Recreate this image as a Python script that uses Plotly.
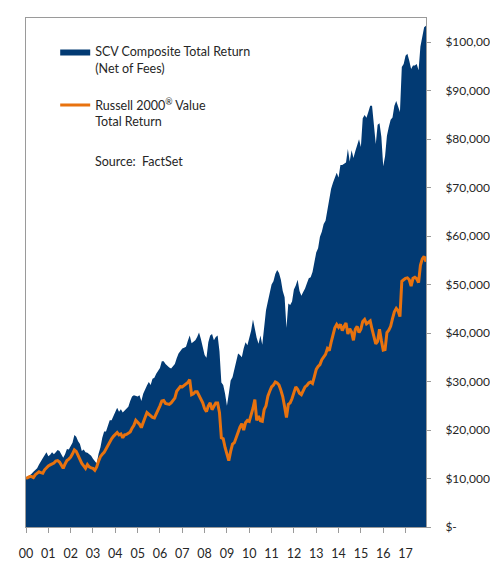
import plotly.graph_objects as go

# ---- data (values in $ thousands, month-end, Jan 2000 .. Dec 2017) ----
years = list(range(2000, 2018))
months = [f"{y}-{m:02d}" for y in years for m in range(1, 13)]
year_labels = ["00", "01", "02", "03", "04", "05", "06", "07", "08", "09",
               "10", "11", "12", "13", "14", "15", "16", "17"]

scv_k = [
    10.0, 10.3, 10.6, 11.0, 11.4, 11.7, 12.1, 12.9, 13.7, 14.2, 14.8, 15.4,
    14.6, 14.9, 15.4, 15.0, 15.4, 15.9, 15.7, 15.0, 14.3, 15.0, 16.1, 16.0,
    16.7, 17.4, 19.0, 18.6, 17.7, 17.1, 15.7, 16.0, 15.4, 15.3, 15.0, 14.7,
    14.1, 13.7, 13.1, 15.1, 16.4, 18.4, 19.7, 19.7, 21.0, 22.0, 22.0, 22.8,
    23.6, 24.6, 23.8, 24.3, 23.6, 24.0, 24.6, 24.8, 26.0, 26.9, 27.2, 27.0,
    26.9, 27.2, 26.0, 27.5, 28.5, 29.2, 29.9, 29.3, 30.6, 30.8, 31.6, 32.2,
    32.8, 34.2, 34.2, 33.6, 33.2, 32.9, 32.7, 33.2, 33.6, 34.8, 35.8, 36.3,
    36.8, 37.0, 37.2, 38.4, 39.5, 37.9, 38.2, 38.5, 39.2, 40.1, 38.8, 37.0,
    35.5, 34.9, 38.1, 39.5, 39.8, 38.5, 39.2, 39.5, 36.2, 29.8, 29.3, 27.5,
    25.0, 27.5, 30.2, 30.9, 32.5, 34.2, 35.8, 35.5, 35.0, 36.8, 38.1, 37.5,
    38.8, 40.5, 42.8, 40.8, 39.0, 37.8, 39.5, 37.6, 42.0, 44.7, 46.5, 48.0,
    50.0, 50.7, 52.2, 53.0, 52.4, 51.0, 48.7, 47.4, 41.1, 46.1, 45.8, 46.5,
    49.0, 49.8, 51.0, 48.7, 47.7, 48.5, 49.2, 50.3, 51.3, 51.5, 52.6, 54.6,
    56.6, 57.5, 59.9, 60.9, 62.5, 63.2, 65.5, 67.8, 69.8, 71.0, 72.1, 73.1,
    72.1, 74.7, 74.7, 75.0, 75.2, 78.0, 75.4, 77.7, 76.1, 77.5, 79.0, 80.0,
    78.4, 84.3, 85.0, 84.4, 85.6, 86.9, 86.9, 82.3, 79.0, 83.0, 83.3, 80.5,
    74.4, 76.5, 80.7, 82.5, 84.0, 84.5, 86.9, 87.9, 86.5, 85.6, 94.9, 95.5,
    97.2, 97.6, 96.2, 94.5, 95.2, 95.2, 95.5, 94.2, 99.1, 101.4, 103.1, 103.4,
]

r2000v_k = [
    10.0, 10.2, 10.4, 10.4, 10.2, 10.8, 11.1, 11.4, 11.2, 11.1, 11.8, 12.3,
    12.6, 12.8, 13.0, 13.2, 13.6, 13.7, 13.4, 12.8, 12.1, 13.0, 13.7, 14.0,
    14.4, 15.1, 15.9, 15.6, 14.7, 13.8, 13.1, 12.6, 12.1, 12.9, 12.4, 12.2,
    12.1, 11.7, 12.4, 13.6, 14.5, 15.0, 15.4, 16.1, 16.8, 17.7, 18.2, 18.7,
    19.1, 19.5, 19.0, 19.2, 18.4, 19.0, 19.1, 19.4, 19.6, 20.4, 21.0, 22.0,
    21.6, 21.2, 20.5, 21.8, 22.6, 23.6, 23.3, 23.0, 22.6, 22.5, 23.3, 24.0,
    25.0, 26.0, 26.1, 25.5, 25.4, 25.3, 25.6, 26.2, 26.6, 28.0, 28.5, 29.0,
    28.9, 29.2, 29.4, 29.8, 30.4, 27.3, 27.5, 27.9, 27.9, 27.2, 26.4, 25.6,
    24.4, 23.8, 25.0, 25.6, 24.2, 25.0, 25.6, 25.6, 23.6, 18.4, 18.2, 16.4,
    15.0, 13.7, 15.6, 17.1, 17.4, 18.5, 19.7, 20.6, 21.3, 20.0, 21.5, 22.0,
    21.8, 23.0, 24.5, 26.3, 22.0, 22.9, 21.9, 21.8, 24.2, 25.0, 27.0, 28.0,
    28.9, 29.3, 29.9, 29.7, 29.3, 28.2, 26.9, 24.8, 22.6, 25.3, 25.6, 26.5,
    27.9, 28.9, 28.4, 27.6, 27.3, 28.0, 28.9, 29.2, 29.7, 29.9, 29.6, 31.0,
    32.5, 33.1, 33.5, 34.5, 35.0, 35.6, 36.8, 36.4, 38.1, 39.5, 41.1, 41.8,
    41.2, 41.8, 40.5, 41.4, 42.1, 39.8, 40.9, 40.2, 38.5, 40.8, 41.4, 40.1,
    40.8, 42.4, 42.8, 41.9, 42.3, 42.5, 40.8, 39.5, 37.8, 38.3, 40.8, 38.5,
    36.5, 36.6, 40.1, 40.6, 41.4, 43.0, 44.4, 45.1, 44.6, 43.4, 50.7, 51.0,
    51.3, 51.4, 51.0, 49.7, 51.3, 51.5, 51.2, 50.4, 54.0, 55.3, 55.8, 54.7,
]

y_tickvals = [0, 10000, 20000, 30000, 40000, 50000, 60000, 70000, 80000, 90000, 100000]
y_ticktext = ["$-", "$10,000", "$20,000", "$30,000", "$40,000", "$50,000",
              "$60,000", "$70,000", "$80,000", "$90,000", "$100,000"]

BLUE = "#023a73"
ORANGE = "#e8720e"
GRAY = "#9a9a9a"
FONT = "Lato"
TXT = "#262626"

fig = go.Figure()
fig.add_trace(go.Scatter(
    x=months, y=[v * 1000 for v in scv_k],
    name="SCV Composite Total Return<br>(Net of Fees)",
    mode="lines", line=dict(width=0, color=BLUE),
    fill="tozeroy", fillcolor=BLUE, legendgroup="a",
))
fig.add_trace(go.Scatter(
    x=months, y=[v * 1000 for v in r2000v_k],
    name="Russell 2000<sup>®</sup> Value<br>Total Return",
    mode="lines", line=dict(width=3, color=ORANGE), legendgroup="b",
))

fig.update_layout(
    width=498, height=562,
    margin=dict(l=18, r=70, t=9, b=22),
    plot_bgcolor="white", paper_bgcolor="white",
    font=dict(family=FONT, size=12.5, color=TXT),
    showlegend=True,
    legend=dict(
        x=0.073, y=0.963, xanchor="left", yanchor="top",
        bgcolor="rgba(0,0,0,0)", valign="top",
        traceorder="grouped", tracegroupgap=18,
        font=dict(family=FONT, size=12.5, color=TXT),
    ),
    annotations=[dict(
        text="Source:  FactSet", x=0.168, y=0.719, xref="paper", yref="paper",
        xanchor="left", yanchor="middle", showarrow=False,
        font=dict(family=FONT, size=12.5, color=TXT),
    )],
)
fig.update_xaxes(
    type="category", range=[0, len(months) - 1],
    tickvals=months[::12], ticktext=year_labels, tickangle=0,
    ticks="outside", ticklen=5, tickcolor=GRAY,
    showline=True, mirror=True, linecolor=GRAY, linewidth=1,
    showgrid=False, zeroline=False, ticklabelstandoff=10,
    tickfont=dict(family=FONT, size=12.5, color=TXT),
)
fig.update_yaxes(
    side="right", range=[0, 105000],
    tickvals=y_tickvals, ticktext=y_ticktext,
    ticks="outside", ticklen=4, tickcolor=GRAY,
    showline=True, mirror=True, linecolor=GRAY, linewidth=1,
    showgrid=False, zeroline=False, ticklabelstandoff=12,
    tickfont=dict(family=FONT, size=12, color=TXT),
)

fig.write_html("out.html")
